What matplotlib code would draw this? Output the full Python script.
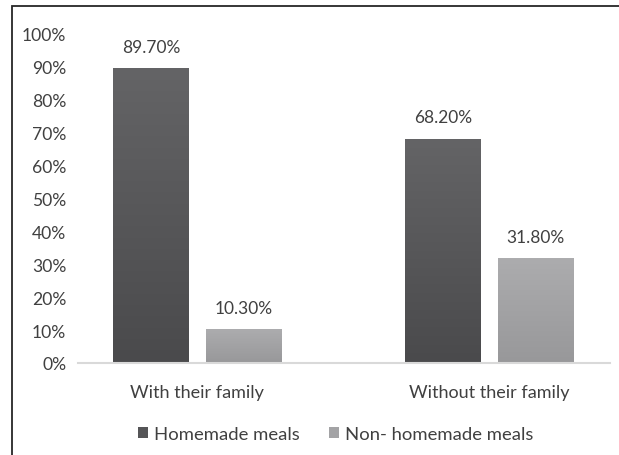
import numpy as np
import matplotlib.pyplot as plt
from matplotlib.patches import Rectangle
from matplotlib.colors import LinearSegmentedColormap

categories = ['With their family', 'Without their family']
series_names = ['Homemade meals', 'Non- homemade meals']
homemade = [89.7, 68.2]
non_homemade = [10.3, 31.8]
yticks = [0, 10, 20, 30, 40, 50, 60, 70, 80, 90, 100]

plt.rcParams['font.family'] = ['Lato', 'DejaVu Sans']
text_col = '#404040'

fig = plt.figure(figsize=(6.19, 4.56), dpi=100)
ax = fig.add_axes([0.126, 0.2018, 0.8595, 0.7215])

# frame around the whole chart (only top and left are visible in the crop)
fig.patches.append(Rectangle((12 / 619, -0.1), 1.2, 1 - 7 / 456 + 0.1,
                             transform=fig.transFigure, fill=False,
                             edgecolor='#262626', linewidth=1.3))

x = np.arange(len(categories))
w = 0.257
off = 0.159
b1 = ax.bar(x - off, homemade, w, color='#555557', label=series_names[0])
b2 = ax.bar(x + off, non_homemade, w, color='#a3a3a5', label=series_names[1])

# soft vertical gradient like the original
def shade(bars, top, bottom):
    grad = np.linspace(0, 1, 100).reshape(-1, 1)
    cmap = LinearSegmentedColormap.from_list('g', [bottom, top])
    for p in bars:
        x0, y0 = p.get_x(), p.get_y()
        im = ax.imshow(grad, extent=[x0, x0 + p.get_width(), y0, y0 + p.get_height()],
                       origin='lower', cmap=cmap, aspect='auto', zorder=p.get_zorder())
        im.set_clip_path(p)

shade(b1, '#646466', '#4a4a4c')
shade(b2, '#acacae', '#98989a')

for bars, vals in [(b1, homemade), (b2, non_homemade)]:
    for p, v in zip(bars, vals):
        ax.annotate('%.2f%%' % v, (p.get_x() + p.get_width() / 2, v),
                    xytext=(0, 9.5), textcoords='offset points',
                    ha='center', va='bottom', fontsize=12.5, color=text_col)

ax.set_xlim(-0.409, 1.413)
ax.set_ylim(0, 100)
ax.set_yticks(yticks)
ax.set_yticklabels(['%d%%' % t for t in yticks], fontsize=12.6)
ax.set_xticks(x)
ax.set_xticklabels(categories, fontsize=13)
ax.tick_params(axis='both', length=0, labelcolor=text_col)
ax.tick_params(axis='y', pad=8.5)
ax.tick_params(axis='x', pad=15)
for s in ['top', 'right', 'left']:
    ax.spines[s].set_visible(False)
ax.spines['bottom'].set_color('#d9d9d9')
ax.spines['bottom'].set_linewidth(1.5)

leg = fig.legend(handles=[b1, b2], labels=series_names, loc='center',
                 bbox_to_anchor=(0.542, 1 - 435 / 456), ncol=2, frameon=False,
                 fontsize=13.3, handlelength=0.55, handleheight=0.55,
                 handletextpad=0.3, columnspacing=1.6)
for t in leg.get_texts():
    t.set_color(text_col)

fig.savefig('out.png', dpi=100)
